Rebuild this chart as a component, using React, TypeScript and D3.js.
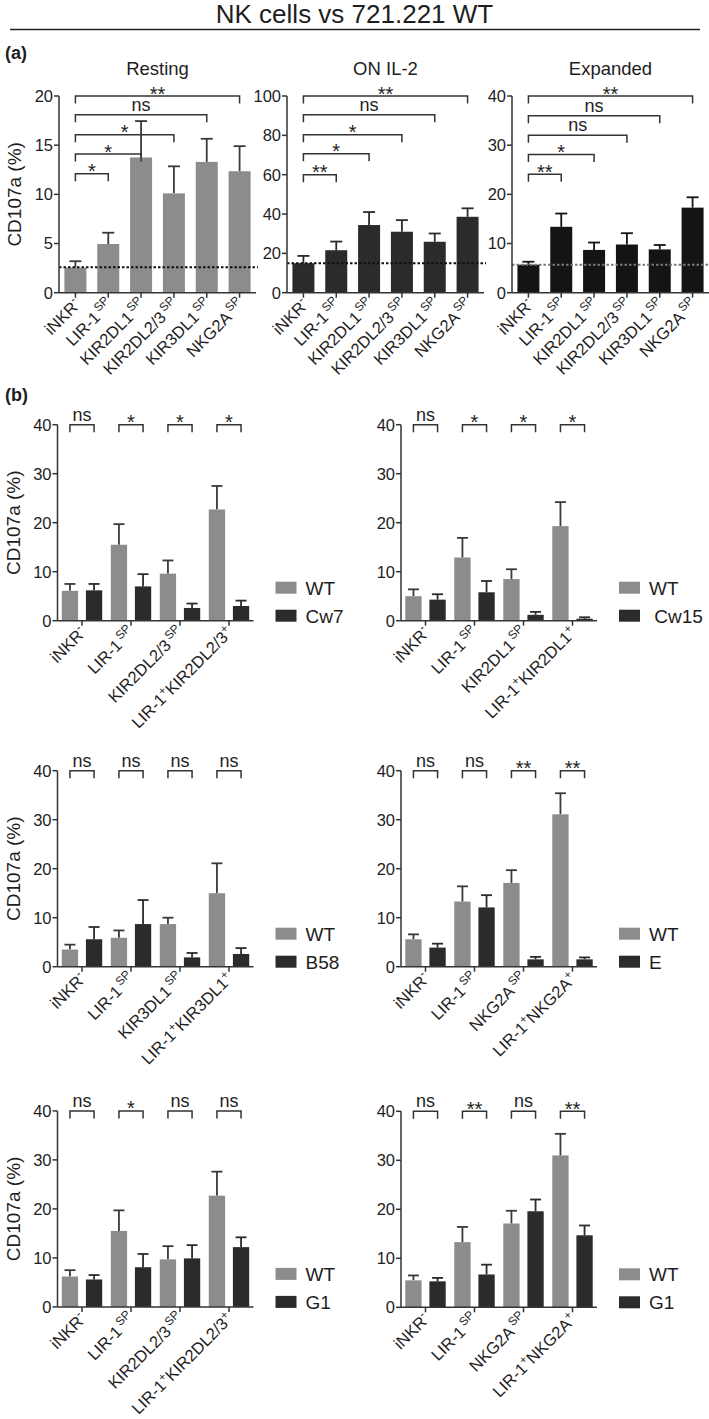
import React from "react";
import * as d3 from "d3";

const FONT = "'Liberation Sans', Arial, Helvetica, sans-serif";

// ---------- Panel (a) data ----------
const aCategories = ["iNKR^{-}", "LIR-1^{SP}", "KIR2DL1^{SP}", "KIR2DL2/3^{SP}", "KIR3DL1^{SP}", "NKG2A^{SP}"];
const restingMean = [2.55, 4.95, 13.75, 10.1, 13.3, 12.35];
const restingUpper = [3.2, 6.1, 17.45, 12.85, 15.65, 14.9];
const restingBaseline = 2.6;
const restingBracketEnd = [1, 2, 3, 4, 5];
const restingBracketY = [12.1, 14.1, 16.05, 18.1, 20];
const restingBracketLabel = ["*", "*", "*", "ns", "**"];

const il2Mean = [15.0, 21.6, 34.4, 31.0, 25.9, 38.6];
const il2Upper = [18.7, 26.0, 41.0, 36.9, 30.1, 42.9];
const il2Baseline = 15.0;
const il2BracketEnd = [1, 2, 3, 4, 5];
const il2BracketY = [60, 70.6, 80.3, 90.5, 100];
const il2BracketLabel = ["**", "*", "*", "ns", "**"];

const expMean = [5.7, 13.4, 8.7, 9.8, 8.8, 17.3];
const expUpper = [6.3, 16.1, 10.2, 12.1, 9.7, 19.4];
const expBaseline = 5.7;
const expBracketEnd = [1, 2, 3, 4, 5];
const expBracketY = [24.1, 28.1, 32, 36, 40];
const expBracketLabel = ["**", "*", "ns", "ns", "**"];

const aTitles = ["Resting", "ON IL-2", "Expanded"];
const aTicks = [[0, 5, 10, 15, 20], [0, 20, 40, 60, 80, 100], [0, 10, 20, 30, 40]];

// ---------- Panel (b) data ----------
const bTicks = [0, 10, 20, 30, 40];
const catsKIR23 = ["iNKR^{-}", "LIR-1^{SP}", "KIR2DL2/3^{SP}", "LIR-1^{+}KIR2DL2/3^{+}"];
const catsKIR2DL1 = ["iNKR^{-}", "LIR-1^{SP}", "KIR2DL1^{SP}", "LIR-1^{+}KIR2DL1^{+}"];
const catsKIR3DL1 = ["iNKR^{-}", "LIR-1^{SP}", "KIR3DL1^{SP}", "LIR-1^{+}KIR3DL1^{+}"];
const catsNKG2A = ["iNKR^{-}", "LIR-1^{SP}", "NKG2A^{SP}", "LIR-1^{+}NKG2A^{+}"];

const cw7WT = [6.1, 15.5, 9.6, 22.7];
const cw7WTUp = [7.5, 19.7, 12.3, 27.5];
const cw7Val = [6.2, 7.0, 2.6, 3.0];
const cw7Up = [7.5, 9.5, 3.5, 4.1];
const cw7Sig = ["ns", "*", "*", "*"];

const cw15WT = [5.0, 12.9, 8.5, 19.3];
const cw15WTUp = [6.4, 16.9, 10.5, 24.2];
const cw15Val = [4.3, 5.8, 1.2, 0.4];
const cw15Up = [5.4, 8.1, 1.8, 0.7];
const cw15Sig = ["ns", "*", "*", "*"];

const b58WT = [3.5, 5.9, 8.7, 15.0];
const b58WTUp = [4.5, 7.4, 10.0, 21.1];
const b58Val = [5.6, 8.7, 1.9, 2.6];
const b58Up = [8.1, 13.6, 2.8, 3.8];
const b58Sig = ["ns", "ns", "ns", "ns"];

const eWT = [5.6, 13.3, 17.1, 31.1];
const eWTUp = [6.6, 16.4, 19.7, 35.4];
const eVal = [3.9, 12.1, 1.5, 1.5];
const eUp = [4.7, 14.6, 2.0, 1.9];
const eSig = ["ns", "ns", "**", "**"];

const g1aWT = [6.2, 15.5, 9.7, 22.7];
const g1aWTUp = [7.5, 19.7, 12.4, 27.6];
const g1aVal = [5.6, 8.1, 9.9, 12.2];
const g1aUp = [6.5, 10.8, 12.6, 14.2];
const g1aSig = ["ns", "*", "ns", "ns"];

const g1bWT = [5.5, 13.3, 17.1, 31.0];
const g1bWTUp = [6.5, 16.4, 19.7, 35.4];
const g1bVal = [5.3, 6.7, 19.6, 14.7];
const g1bUp = [6.0, 8.7, 22.0, 16.7];
const g1bSig = ["ns", "**", "ns", "**"];

const seriesNames = ["WT", "Cw7", " Cw15", "B58", "E", "G1", "G1"];

// ---------- styles ----------
const GRAY = "#8c8c8c";
const DARK = "#2b2b2b";
const BLACK = "#141414";
const AXIS = "#333";
const TXT = "#1e1e1e";
const LABEL_SIZE = 16.5;

function parseLabel(s: string) {
  const parts: { t: string; sup: boolean }[] = [];
  const re = /\^\{([^}]*)\}/g;
  let last = 0;
  let m: RegExpExecArray | null;
  while ((m = re.exec(s))) {
    if (m.index > last) parts.push({ t: s.slice(last, m.index), sup: false });
    parts.push({ t: m[1], sup: true });
    last = m.index + m[0].length;
  }
  if (last < s.length) parts.push({ t: s.slice(last), sup: false });
  return parts;
}

function RotLabel({ text, x, y, size }: { text: string; x: number; y: number; size: number }) {
  const parts = parseLabel(text);
  const shift = size * 0.4;
  let cur = 0;
  return (
    <text transform={`translate(${x},${y}) rotate(-45)`} textAnchor="end" fontSize={size} fontFamily={FONT} fill={TXT}>
      {parts.map((p, i) => {
        const target = p.sup ? -shift : 0;
        const dy = target - cur;
        cur = target;
        return (
          <tspan key={i} dy={dy} fontSize={p.sup ? size * 0.72 : size}>
            {p.t === "SP" ? "\u2009" + p.t : p.t}
          </tspan>
        );
      })}
    </text>
  );
}

function YAxis({ x0, y, ticks }: { x0: number; y: any; ticks: number[] }) {
  const [d0, d1] = y.domain();
  return (
    <g>
      <line x1={x0} x2={x0} y1={y(d0)} y2={y(d1)} stroke={AXIS} strokeWidth={1.5} />
      {ticks.map((t) => (
        <g key={t}>
          <line x1={x0 - 5} x2={x0} y1={y(t)} y2={y(t)} stroke={AXIS} strokeWidth={1.5} />
          <text x={x0 - 6} y={y(t)} dy="0.36em" textAnchor="end" fontSize={16.5} fontFamily={FONT} fill={TXT}>
            {t}
          </text>
        </g>
      ))}
    </g>
  );
}

function SigText({ x, y, label }: { x: number; y: number; label: string }) {
  const isStar = label.includes("*");
  return (
    <text x={x} y={isStar ? y + 4.5 : y - 4} textAnchor="middle" fontSize={isStar ? 20 : 18} fontFamily={FONT} fill={TXT}>
      {label}
    </text>
  );
}

function YLabel({ x, yMid }: { x: number; yMid: number }) {
  return (
    <text transform={`translate(${x},${yMid}) rotate(-90)`} textAnchor="middle" fontSize={19} fontFamily={FONT} fill={TXT}>
      CD107a (%)
    </text>
  );
}

type AProps = {
  x0: number; width: number; yTop: number; y0: number; max: number; ticks: number[];
  title: string; mean: number[]; upper: number[]; color: string; errColor: string;
  baseline: number; baselineColor: string; bEnd: number[]; bY: number[]; bLabel: string[]; yLabel: boolean;
};

function ChartA(p: AProps) {
  const x = d3.scaleBand<string>().domain(aCategories).range([p.x0, p.x0 + p.width]).paddingInner(0.33).paddingOuter(0.165);
  const y = d3.scaleLinear().domain([0, p.max]).range([p.y0, p.yTop]);
  const bw = x.bandwidth();
  const cx = (i: number) => (x(aCategories[i]) as number) + bw / 2;
  return (
    <g>
      <text x={p.x0 + p.width / 2} y={p.yTop - 21} textAnchor="middle" fontSize={18.5} fontFamily={FONT} fill={TXT}>
        {p.title}
      </text>
      {p.yLabel && <YLabel x={21} yMid={(p.yTop + p.y0) / 2} />}
      {aCategories.map((c, i) => (
        <g key={c}>
          <line x1={cx(i)} x2={cx(i)} y1={y(p.mean[i])} y2={y(p.upper[i])} stroke={p.errColor} strokeWidth={1.8} />
          <line x1={cx(i) - 6} x2={cx(i) + 6} y1={y(p.upper[i])} y2={y(p.upper[i])} stroke={p.errColor} strokeWidth={1.8} />
          <rect x={x(c)} y={y(p.mean[i])} width={bw} height={p.y0 - y(p.mean[i])} fill={p.color} />
        </g>
      ))}
      <line x1={p.x0} x2={p.x0 + p.width + 2} y1={y(p.baseline)} y2={y(p.baseline)} stroke={p.baselineColor} strokeWidth={2} strokeDasharray="2.5,2" />
      <YAxis x0={p.x0} y={y} ticks={p.ticks} />
      <line x1={p.x0} x2={p.x0 + p.width} y1={p.y0} y2={p.y0} stroke={AXIS} strokeWidth={1.5} />
      {aCategories.map((c, i) => (
        <g key={"t" + c}>
          <line x1={cx(i)} x2={cx(i)} y1={p.y0} y2={p.y0 + 5} stroke={AXIS} strokeWidth={1.5} />
          <RotLabel text={c} x={cx(i) + 6} y={p.y0 + 13} size={LABEL_SIZE} />
        </g>
      ))}
      {p.bEnd.map((e, k) => {
        const yy = y(p.bY[k]);
        const xa = cx(0);
        const xb = cx(e);
        return (
          <g key={"b" + k}>
            <path d={`M${xa},${yy + 7.5}V${yy}H${xb}V${yy + 7.5}`} fill="none" stroke={AXIS} strokeWidth={1.5} />
            <SigText x={(xa + xb) / 2} y={yy} label={p.bLabel[k]} />
          </g>
        );
      })}
    </g>
  );
}

type BProps = {
  x0: number; y0: number; cats: string[]; wt: number[]; wtUp: number[]; val: number[]; up: number[];
  sig: string[]; name: string; yLabel: boolean;
};

function ChartB(p: BProps) {
  const width = 196;
  const height = 196;
  const yTop = p.y0 - height;
  const x = d3.scaleBand<string>().domain(p.cats).range([p.x0, p.x0 + width]).padding(0);
  const inner = d3.scaleBand<string>().domain(["WT", "other"]).range([0, x.bandwidth()]).paddingInner(0.324).paddingOuter(0.178);
  const y = d3.scaleLinear().domain([0, 40]).range([p.y0, yTop]);
  const bw = inner.bandwidth();
  const series = [
    { key: "WT", vals: p.wt, ups: p.wtUp, color: GRAY, err: "#3a3a3a" },
    { key: "other", vals: p.val, ups: p.up, color: DARK, err: DARK },
  ];
  const legX = p.x0 + 218;
  return (
    <g>
      {p.yLabel && <YLabel x={20} yMid={(yTop + p.y0) / 2} />}
      {p.cats.map((c, i) => (
        <g key={c}>
          {series.map((s) => {
            const bx = (x(c) as number) + (inner(s.key) as number);
            const mx = bx + bw / 2;
            return (
              <g key={s.key}>
                <line x1={mx} x2={mx} y1={y(s.vals[i])} y2={y(s.ups[i])} stroke={s.err} strokeWidth={1.8} />
                <line x1={mx - 5.5} x2={mx + 5.5} y1={y(s.ups[i])} y2={y(s.ups[i])} stroke={s.err} strokeWidth={1.8} />
                <rect x={bx} y={y(s.vals[i])} width={bw} height={p.y0 - y(s.vals[i])} fill={s.color} />
              </g>
            );
          })}
        </g>
      ))}
      <YAxis x0={p.x0} y={y} ticks={bTicks} />
      <line x1={p.x0} x2={p.x0 + width} y1={p.y0} y2={p.y0} stroke={AXIS} strokeWidth={1.5} />
      {p.cats.map((c, i) => {
        const gx = (x(c) as number) + x.bandwidth() / 2;
        const xa = (x(c) as number) + (inner("WT") as number) + bw / 2;
        const xb = (x(c) as number) + (inner("other") as number) + bw / 2;
        const yy = y(40);
        return (
          <g key={"t" + c}>
            <line x1={gx} x2={gx} y1={p.y0} y2={p.y0 + 5} stroke={AXIS} strokeWidth={1.5} />
            <RotLabel text={c} x={gx + 5} y={p.y0 + 13} size={LABEL_SIZE} />
            <path d={`M${xa},${yy + 7.5}V${yy}H${xb}V${yy + 7.5}`} fill="none" stroke={AXIS} strokeWidth={1.5} />
            <SigText x={(xa + xb) / 2} y={yy} label={p.sig[i]} />
          </g>
        );
      })}
      <rect x={legX} y={p.y0 - 39} width={21} height={12} fill={GRAY} />
      <rect x={legX} y={p.y0 - 11} width={21} height={12} fill={DARK} />
      <text x={legX + 30} y={p.y0 - 33} dy="0.36em" fontSize={19} fontFamily={FONT} fill={TXT}>{seriesNames[0]}</text>
      <text x={legX + 30} y={p.y0 - 5} dy="0.36em" fontSize={19} fontFamily={FONT} fill={TXT} style={{ whiteSpace: "pre" }}>{p.name}</text>
    </g>
  );
}

export default function App() {
  const aX = [59, 287, 512];
  const aW = 197;
  const aTop = 96;
  const aY0 = 292.7;
  return (
    <svg width={709} height={1419} viewBox="0 0 709 1419" style={{ display: "block", position: "absolute", left: 0, top: 0, background: "#fff" }}>
      <rect x={0} y={0} width={709} height={1419} fill="#fff" />
      <text x={354.5} y={23} textAnchor="middle" fontSize={26} fontFamily={FONT} fill={TXT}>
        NK cells vs 721.221 WT
      </text>
      <line x1={10} x2={700} y1={29.5} y2={29.5} stroke="#222" strokeWidth={1.5} />
      <text x={5} y={59} fontSize={18} fontWeight="bold" fontFamily={FONT} fill={TXT}>(a)</text>
      <text x={5} y={401} fontSize={18} fontWeight="bold" fontFamily={FONT} fill={TXT}>(b)</text>

      <ChartA x0={aX[0]} width={aW} yTop={aTop} y0={aY0} max={20} ticks={aTicks[0]} title={aTitles[0]}
        mean={restingMean} upper={restingUpper} color={GRAY} errColor="#3a3a3a" baseline={restingBaseline} baselineColor="#111"
        bEnd={restingBracketEnd} bY={restingBracketY} bLabel={restingBracketLabel} yLabel={true} />
      <ChartA x0={aX[1]} width={aW} yTop={aTop} y0={aY0} max={100} ticks={aTicks[1]} title={aTitles[1]}
        mean={il2Mean} upper={il2Upper} color={DARK} errColor={DARK} baseline={il2Baseline} baselineColor="#111"
        bEnd={il2BracketEnd} bY={il2BracketY} bLabel={il2BracketLabel} yLabel={false} />
      <ChartA x0={aX[2]} width={aW} yTop={aTop} y0={aY0} max={40} ticks={aTicks[2]} title={aTitles[2]}
        mean={expMean} upper={expUpper} color={BLACK} errColor={BLACK} baseline={expBaseline} baselineColor="#777"
        bEnd={expBracketEnd} bY={expBracketY} bLabel={expBracketLabel} yLabel={false} />

      <ChartB x0={57.5} y0={620.7} cats={catsKIR23} wt={cw7WT} wtUp={cw7WTUp} val={cw7Val} up={cw7Up} sig={cw7Sig} name={seriesNames[1]} yLabel={true} />
      <ChartB x0={401} y0={620.7} cats={catsKIR2DL1} wt={cw15WT} wtUp={cw15WTUp} val={cw15Val} up={cw15Up} sig={cw15Sig} name={seriesNames[2]} yLabel={false} />
      <ChartB x0={57.5} y0={966.7} cats={catsKIR3DL1} wt={b58WT} wtUp={b58WTUp} val={b58Val} up={b58Up} sig={b58Sig} name={seriesNames[3]} yLabel={true} />
      <ChartB x0={401} y0={966.7} cats={catsNKG2A} wt={eWT} wtUp={eWTUp} val={eVal} up={eUp} sig={eSig} name={seriesNames[4]} yLabel={false} />
      <ChartB x0={57.5} y0={1306.9} cats={catsKIR23} wt={g1aWT} wtUp={g1aWTUp} val={g1aVal} up={g1aUp} sig={g1aSig} name={seriesNames[5]} yLabel={true} />
      <ChartB x0={401} y0={1307.3} cats={catsNKG2A} wt={g1bWT} wtUp={g1bWTUp} val={g1bVal} up={g1bUp} sig={g1bSig} name={seriesNames[6]} yLabel={false} />
    </svg>
  );
}
